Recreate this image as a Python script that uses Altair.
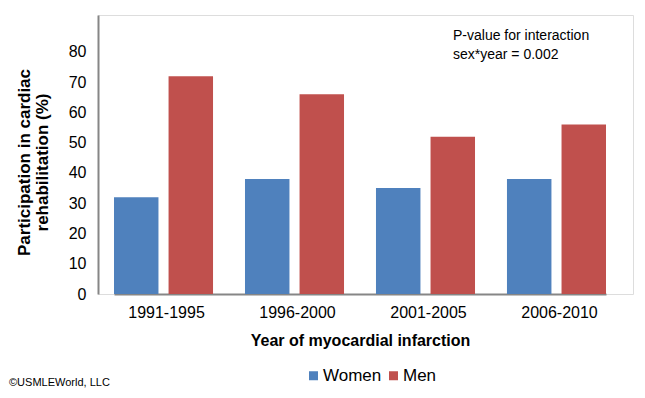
import altair as alt
import pandas as pd

periods = ["1991-1995", "1996-2000", "2001-2005", "2006-2010"]
women = [32, 38, 35, 38]
men = [72, 66, 52, 56]
series = ["Women", "Men"]
colors = ["#4F81BD", "#C0504D"]
y_ticks = [0, 10, 20, 30, 40, 50, 60, 70, 80]

rows = []
for p, w, m in zip(periods, women, men):
    rows.append({"period": p, "sex": "Women", "value": w})
    rows.append({"period": p, "sex": "Men", "value": m})
df = pd.DataFrame(rows)

FONT = "Liberation Sans"

bars = alt.Chart(df).mark_bar().encode(
    x=alt.X("period:N", sort=periods,
            scale=alt.Scale(range=[16, 508], paddingInner=0.244, paddingOuter=0),
            axis=alt.Axis(title="Year of myocardial infarction", labelAngle=0,
                          ticks=False, labelPadding=10, titlePadding=12, labelOffset=3,
                          domainColor="#868686", domainWidth=2,
                          labelFont=FONT, labelFontSize=16, labelColor="#000",
                          titleFont=FONT, titleFontSize=16, titleFontWeight="bold",
                          titleColor="#000")),
    xOffset=alt.XOffset("sex:N", sort=series,
                        scale=alt.Scale(paddingInner=0.185, paddingOuter=0)),
    y=alt.Y("value:Q", scale=alt.Scale(domain=[0, 92.2], nice=False),
            axis=alt.Axis(values=y_ticks, grid=False, ticks=False, labelPadding=12,
                          domainColor="#868686", domainWidth=2,
                          labelFont=FONT, labelFontSize=16, labelColor="#000",
                          title=["Participation in cardiac", "rehabilitation (%)"],
                          titleFont=FONT, titleFontSize=17, titleFontWeight="bold",
                          titleColor="#000", titleAngle=-90,
                          titleX=-74, titleY=147, titleAlign="center",
                          titleBaseline="middle", titleLineHeight=18)),
    color=alt.Color("sex:N", sort=series,
                    scale=alt.Scale(domain=series, range=colors),
                    legend=alt.Legend(title=None, orient="none", legendX=207,
                                      legendY=352, direction="horizontal",
                                      symbolType="square", symbolSize=81,
                                      symbolStrokeWidth=0, labelFont=FONT,
                                      labelFontSize=17, labelColor="#000",
                                      labelOffset=1, columnPadding=3)),
)

note = alt.Chart(pd.DataFrame({"t": [["P-value for interaction", "sex*year = 0.002"]]})).mark_text(
    align="left", baseline="top", font=FONT, fontSize=14, color="#000", lineHeight=19
).encode(x=alt.value(355), y=alt.value(14), text="t:N")

copy = alt.Chart(pd.DataFrame({"t": ["\u00a9USMLEWorld, LLC"]})).mark_text(
    align="left", baseline="middle", font=FONT, fontSize=11, color="#000"
).encode(x=alt.value(-89), y=alt.value(368), text="t:N")

chart = alt.layer(bars, note, copy).properties(
    width=535, height=279,
    autosize=alt.AutoSizeParams(type="none"),
    padding={"left": 90, "top": 7, "right": 4, "bottom": 96},
).configure_view(stroke=None).configure(background="white")

chart.save("out.html", embed_options={"renderer": "svg", "actions": False})
